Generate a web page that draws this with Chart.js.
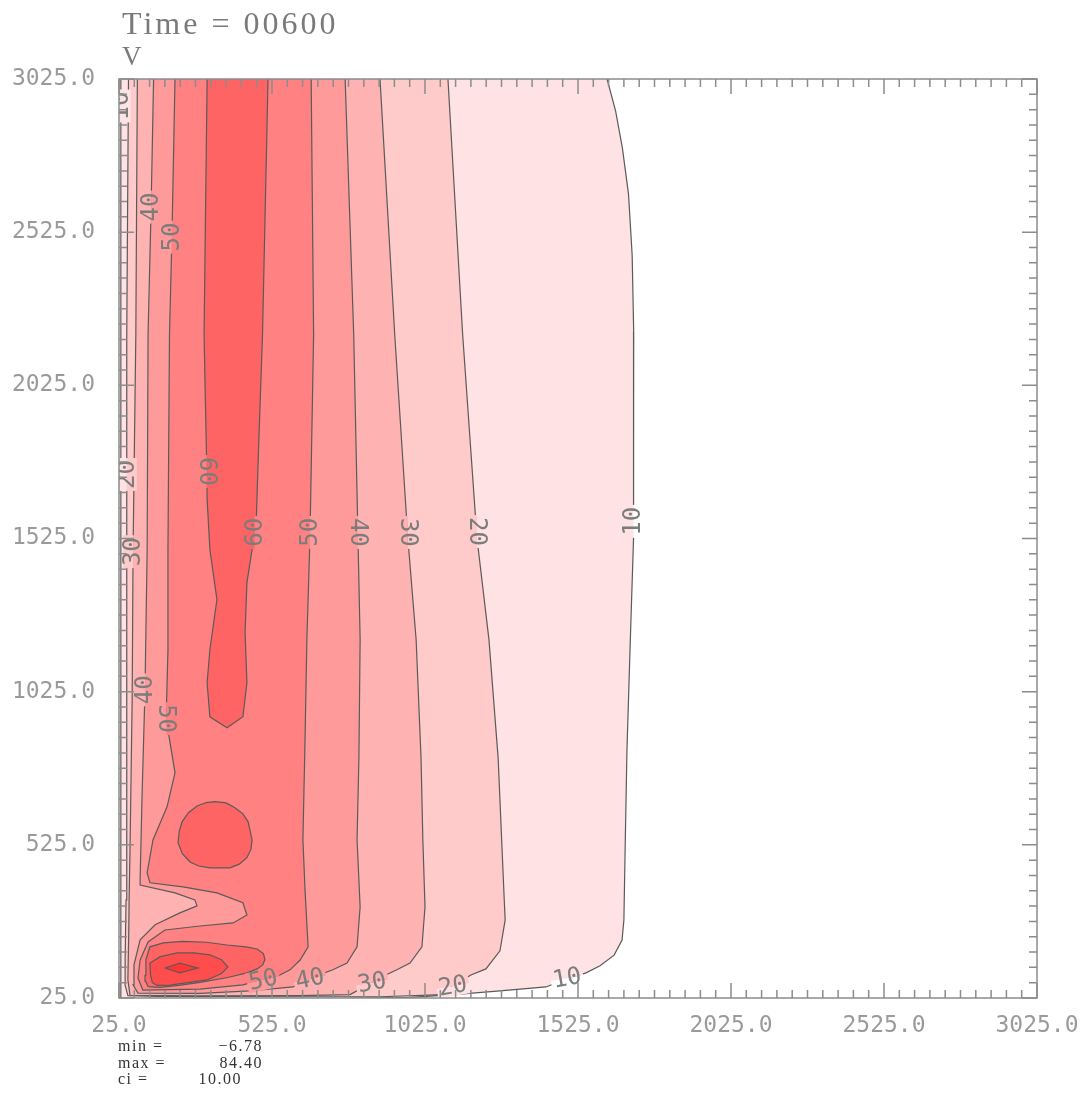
<!DOCTYPE html>
<html>
<head>
<meta charset="utf-8">
<script src="https://cdn.jsdelivr.net/npm/chart.js@4.4.1/dist/chart.umd.min.js"></script>
<style>
  html, body { margin: 0; padding: 0; background: #fff; }
</style>
</head>
<body>
<canvas id="myChart" width="1089" height="1093"></canvas>
<script>
const ctx = document.getElementById('myChart').getContext('2d');

const titleText = 'Time = 00600';
const varName = 'V';
const xTicks = [25, 525, 1025, 1525, 2025, 2525, 3025];
const yTicks = [25, 525, 1025, 1525, 2025, 2525, 3025];
const statNames = ['min =', 'max =', 'ci ='];
const statValues = ['\u22126.78', '84.40', '10.00'];

// contour polygons, each one encloses the area where V >= level  (x, y in grid units)
const v10 = [[31,3025],[1620,3025],[1648,2920],[1670,2800],[1690,2650],[1702,2450],[1707,2200],[1708,1979],[1705,1525],[1695,1162],[1685,835],[1679,509],[1675,280],[1669,214],[1643,165],[1597,130],[1551,107],[1482,84],[1420,61],[1270,48],[1130,37],[979,27],[780,25],[31,25]];
const v20 = [[56,3025],[1100,3025],[1148,2192],[1195,1525],[1234,1195],[1264,809],[1284,345],[1287,280],[1270,179],[1224,120],[1175,100],[1116,64],[1061,35],[878,29],[600,29],[150,30],[54,33],[45,67],[45,149],[48,345],[49,999],[51,1525],[51,2192]];
const v30 = [[85,3025],[878,3025],[926,2192],[969,1525],[996,1195],[1012,809],[1018,541],[1025,322],[1015,192],[976,139],[933,117],[897,100],[780,36],[616,33],[290,32],[61,34],[54,84],[57,247],[58,345],[61,509],[68,999],[71,1489],[80,2192]];
const v40 = [[138,3025],[764,3025],[792,2192],[806,1525],[813,1195],[809,809],[803,541],[813,322],[803,192],[770,139],[724,117],[685,103],[594,61],[453,48],[290,40],[87,41],[71,68],[74,133],[94,215],[143,264],[224,303],[280,326],[273,345],[208,368],[94,394],[94,411],[100,672],[110,1031],[117,1489],[120,2192],[130,2607]];
const v50 = [[208,3025],[653,3025],[661,2192],[649,1525],[639,1195],[633,868],[626,541],[633,378],[643,192],[617,149],[584,117],[551,100],[430,68],[290,54],[103,51],[87,90],[94,149],[120,208],[175,247],[290,260],[398,270],[443,296],[430,336],[345,368],[234,388],[126,401],[117,434],[136,541],[182,649],[208,760],[179,937],[185,1162],[185,1489],[190,2192],[198,2509]];
const v60a = [[313,3025],[512,3025],[494,2192],[481,1816],[474,1597],[460,1489],[443,1381],[437,1218],[443,1054],[430,943],[378,907],[322,943],[313,1054],[322,1162],[345,1326],[322,1489],[313,1652],[311,1793],[303,2192]];
const v60b = [[339,666],[375,662],[404,646],[430,626],[447,600],[460,541],[456,510],[443,483],[418,462],[388,450],[322,450],[286,456],[257,469],[232,496],[218,532],[222,570],[231,600],[252,630],[280,652],[310,663]];
const v60c = [[110,100],[113,150],[126,192],[170,205],[234,210],[310,207],[378,198],[440,192],[476,185],[497,170],[502,150],[494,132],[476,120],[443,107],[380,92],[290,76],[220,66],[159,60],[120,62],[112,80]];
const v70 = [[128,100],[126,139],[160,160],[215,172],[270,172],[322,166],[360,150],[381,126],[360,105],[313,84],[250,75],[192,67],[150,66],[134,75]];
const v80 = [[175,123],[224,139],[283,123],[224,107]];

const levels = [10, 20, 30, 40, 50, 60, 60, 60, 70, 80];
const contours = [v10, v20, v30, v40, v50, v60a, v60b, v60c, v70, v80];

// contour labels
const labelText = ['10','40','50','20','30','60','60','50','40','30','20','10','40','50','50','40','30','20','10'];
const labelX = [31,130,198,51,71,312,468,649,806,969,1195,1705,110,179,496,649,852,1116,1489];
const labelY = [2937,2607,2509,1734,1482,1744,1545,1545,1545,1545,1548,1581,1031,937,84,87,75,64,90];

// styling
const bandColors = ['#ffffff','#ffe2e4','#ffcaca','#ffb2b2','#ff9a9a','#ff8181','#ff6464','#ff4c4c','#ff3434'];
const labelAngle = [-90,-90,-90,-90,-90,90,-90,-90,90,90,90,-90,-90,90,-12,-12,-10,-10,-10];
const labelUpHigh = [false,false,false,false,false,true,true,true,false,false,false,true,false,true,true,true,true,true,true];
const lineColor = '#5a5a5a';
const axisColor = '#8c8c8c';
const monoFont = '"DejaVu Sans Mono", monospace';

const EDGE_LO = 25, EDGE_HI = 3025;
function onEdge(a, b) {
  return (a.x === b.x && (a.x === EDGE_LO || a.x === EDGE_HI)) ||
         (a.y === b.y && (a.y === EDGE_LO || a.y === EDGE_HI));
}
const toXY = p => ({x: p[0], y: p[1]});

// filled bands (lowest level painted first)
const fillSets = contours.map((pts, i) => ({
  data: pts.map(toXY),
  showLine: true,
  fill: 'shape',
  backgroundColor: bandColors[levels[i] / 10],
  borderColor: 'rgba(0,0,0,0)',
  borderWidth: 0,
  pointRadius: 0,
  order: 100 - i
}));

// contour lines, parts lying on the frame are hidden
const lineSets = contours.map(pts => ({
  data: pts.concat([pts[0]]).map(toXY),
  showLine: true,
  fill: false,
  borderColor: lineColor,
  borderWidth: 1.2,
  pointRadius: 0,
  segment: {
    borderColor: c => onEdge(c.p0.parsed, c.p1.parsed) ? 'rgba(0,0,0,0)' : undefined
  },
  order: 0
}));

const decor = {
  id: 'decor',
  afterDatasetsDraw(chart) {
    const {ctx, chartArea: a, scales: {x, y}} = chart;
    ctx.save();
    ctx.beginPath();
    ctx.rect(a.left, a.top, a.right - a.left, a.bottom - a.top);
    ctx.clip();
    ctx.font = '24px ' + monoFont;
    ctx.textAlign = 'center';
    ctx.textBaseline = 'middle';
    for (let i = 0; i < labelText.length; i++) {
      const b = parseInt(labelText[i]) / 10;
      ctx.save();
      ctx.translate(x.getPixelForValue(labelX[i]), y.getPixelForValue(labelY[i]));
      ctx.rotate(labelAngle[i] * Math.PI / 180);
      const w = ctx.measureText(labelText[i]).width + 4, h = 20;
      ctx.fillStyle = bandColors[labelUpHigh[i] ? b : b - 1];
      ctx.fillRect(-w / 2, -h / 2, w, h / 2);
      ctx.fillStyle = bandColors[labelUpHigh[i] ? b - 1 : b];
      ctx.fillRect(-w / 2, 0, w, h / 2);
      ctx.fillStyle = '#7c7c7c';
      ctx.fillText(labelText[i], 0, 1);
      ctx.restore();
    }
    ctx.restore();
  },
  afterDraw(chart) {
    const {ctx, chartArea: a, scales: {x, y}} = chart;
    ctx.save();
    ctx.strokeStyle = axisColor;
    ctx.lineWidth = 1.5;
    ctx.strokeRect(a.left, a.top, a.right - a.left, a.bottom - a.top);
    // inward tick marks every 50 units, long ones at labelled values
    ctx.beginPath();
    for (let v = EDGE_LO; v <= EDGE_HI; v += 50) {
      const len = xTicks.includes(v) ? 15 : 8;
      const px = x.getPixelForValue(v);
      ctx.moveTo(px, a.bottom); ctx.lineTo(px, a.bottom - len);
      ctx.moveTo(px, a.top); ctx.lineTo(px, a.top + len);
      const lenY = yTicks.includes(v) ? 15 : 8;
      const py = y.getPixelForValue(v);
      ctx.moveTo(a.left, py); ctx.lineTo(a.left + lenY, py);
      ctx.moveTo(a.right, py); ctx.lineTo(a.right - lenY, py);
    }
    ctx.stroke();

    ctx.fillStyle = '#7a7a7a';
    ctx.textAlign = 'left';
    ctx.textBaseline = 'alphabetic';
    ctx.font = '32px "Liberation Serif", serif';
    ctx.letterSpacing = '3px';
    ctx.fillText(titleText, a.left + 3, 34);
    ctx.letterSpacing = '0px';
    ctx.font = '27px "Liberation Serif", serif';
    ctx.fillText(varName, a.left + 3, 65);

    ctx.fillStyle = '#333';
    ctx.font = '16px "Liberation Serif", serif';
    ctx.letterSpacing = '1.5px';
    const valRight = [263, 263, 242];
    for (let i = 0; i < statNames.length; i++) {
      const base = 1051 + i * 16.5;
      ctx.textAlign = 'left';
      ctx.fillText(statNames[i], 118, base);
      ctx.textAlign = 'right';
      ctx.fillText(statValues[i], valRight[i], base);
    }
    ctx.restore();
  }
};

new Chart(ctx, {
  type: 'scatter',
  data: { datasets: fillSets.concat(lineSets) },
  options: {
    responsive: false,
    animation: false,
    events: [],
    layout: { padding: { top: 79, right: 52, left: 0, bottom: 0 } },
    plugins: {
      legend: { display: false },
      tooltip: { enabled: false },
      filler: { drawTime: 'beforeDatasetsDraw', propagate: false }
    },
    scales: {
      x: {
        type: 'linear', min: EDGE_LO, max: EDGE_HI,
        grid: { display: false, drawTicks: false },
        border: { display: false },
        afterBuildTicks: s => { s.ticks = xTicks.map(v => ({value: v})); },
        afterFit: s => { s.height = 95; s.paddingLeft = 0; s.paddingRight = 0; },
        ticks: {
          autoSkip: false, maxRotation: 0, padding: 14, color: '#9a9a9a',
          font: { family: monoFont, size: 23 },
          callback: v => v.toFixed(1)
        }
      },
      y: {
        type: 'linear', min: EDGE_LO, max: EDGE_HI,
        grid: { display: false, drawTicks: false },
        border: { display: false },
        afterBuildTicks: s => { s.ticks = yTicks.map(v => ({value: v})); },
        afterFit: s => { s.width = 119; s.paddingTop = 0; s.paddingBottom = 0; },
        ticks: {
          autoSkip: false, padding: 24, color: '#9a9a9a',
          font: { family: monoFont, size: 23 },
          callback: v => v.toFixed(1)
        }
      }
    }
  },
  plugins: [decor]
});
</script>
</body>
</html>
